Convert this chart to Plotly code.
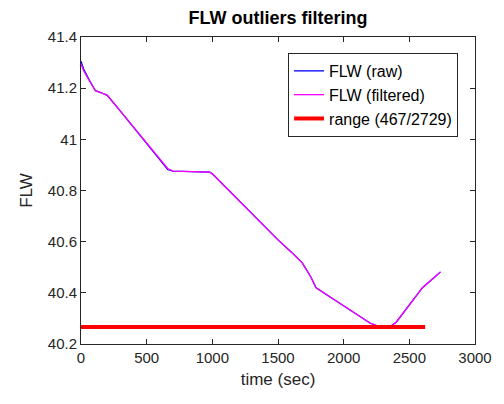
import plotly.graph_objects as go

# FLW samples over time (seconds)
time_raw = [0, 20, 60, 110, 150, 200, 300, 400, 500, 600, 640, 660, 700, 800, 900, 980, 1000,
            1100, 1200, 1300, 1400, 1500, 1600, 1685, 1750, 1790, 1900, 2000, 2100, 2200,
            2250, 2300, 2360, 2400, 2450, 2500, 2600, 2700, 2737]
flw_raw = [41.305, 41.275, 41.235, 41.19, 41.183, 41.172, 41.110, 41.047, 40.983, 40.920,
           40.894, 40.882, 40.876, 40.875, 40.874, 40.872, 40.865,
           40.813, 40.761, 40.710, 40.658, 40.607, 40.560, 40.517, 40.462, 40.420,
           40.383, 40.350, 40.316, 40.282, 40.272, 40.270, 40.270, 40.285, 40.318,
           40.352, 40.420, 40.465, 40.482]

time_filt = [0, 20, 60, 110, 150, 200, 300, 400, 500, 600, 640, 660, 700, 800, 900, 980, 1000,
             1100, 1200, 1300, 1400, 1500, 1600, 1685, 1750, 1790, 1900, 2000, 2100, 2200,
             2250, 2300, 2360, 2400, 2450, 2500, 2600, 2700, 2737]
flw_filt = [41.295, 41.268, 41.232, 41.19, 41.183, 41.172, 41.110, 41.047, 40.983, 40.920,
            40.898, 40.886, 40.876, 40.875, 40.874, 40.872, 40.865,
            40.813, 40.761, 40.710, 40.658, 40.607, 40.560, 40.517, 40.462, 40.420,
            40.383, 40.350, 40.316, 40.282, 40.272, 40.270, 40.270, 40.285, 40.318,
            40.352, 40.420, 40.465, 40.482]

# accepted range lower bound
range_t = [0, 2620]
range_v = [40.266, 40.266]

x_ticks = [0, 500, 1000, 1500, 2000, 2500, 3000]
y_ticks = [40.2, 40.4, 40.6, 40.8, 41.0, 41.2, 41.4]
y_tick_text = ["40.2", "40.4", "40.6", "40.8", "41", "41.2", "41.4"]

ink = "#262626"
font = "Liberation Sans, Arial, sans-serif"

fig = go.Figure()
fig.add_trace(go.Scatter(x=time_raw, y=flw_raw, mode="lines", name="FLW (raw)",
                         line=dict(color="#0000ff", width=1.3)))
fig.add_trace(go.Scatter(x=time_filt, y=flw_filt, mode="lines", name="FLW (filtered)",
                         line=dict(color="#ff00ff", width=1.3)))
fig.add_trace(go.Scatter(x=range_t, y=range_v, mode="lines", name="range (467/2729)",
                         line=dict(color="#ff0000", width=4)))

axis_common = dict(showgrid=False, zeroline=False, showline=True, linecolor=ink,
                   linewidth=1, mirror="ticks", ticks="inside", ticklen=5,
                   tickcolor=ink, tickfont=dict(family=font, size=15, color=ink))

fig.update_layout(
    width=504, height=404,
    margin=dict(l=81, r=24, t=37, b=60),
    paper_bgcolor="white", plot_bgcolor="white",
    title=dict(text="<b>FLW outliers filtering</b>", x=0.5, xref="paper", y=0.955,
               yref="container", xanchor="center", yanchor="middle",
               font=dict(family=font, size=18, color="black")),
    xaxis=dict(range=[0, 3000], tickvals=x_ticks,
               title=dict(text="time (sec)", font=dict(family=font, size=17, color=ink),
                          standoff=8),
               **axis_common),
    yaxis=dict(range=[40.2, 41.4], tickvals=y_ticks, ticktext=y_tick_text,
               title=dict(text="FLW", font=dict(family=font, size=17, color=ink),
                          standoff=10),
               **axis_common),
    legend=dict(x=0.957, y=0.948, xanchor="right", yanchor="top",
                bgcolor="white", bordercolor=ink, borderwidth=1,
                font=dict(family=font, size=16, color="black"),
                tracegroupgap=0, itemwidth=30),
    showlegend=True,
)

fig.write_html("out.html")
